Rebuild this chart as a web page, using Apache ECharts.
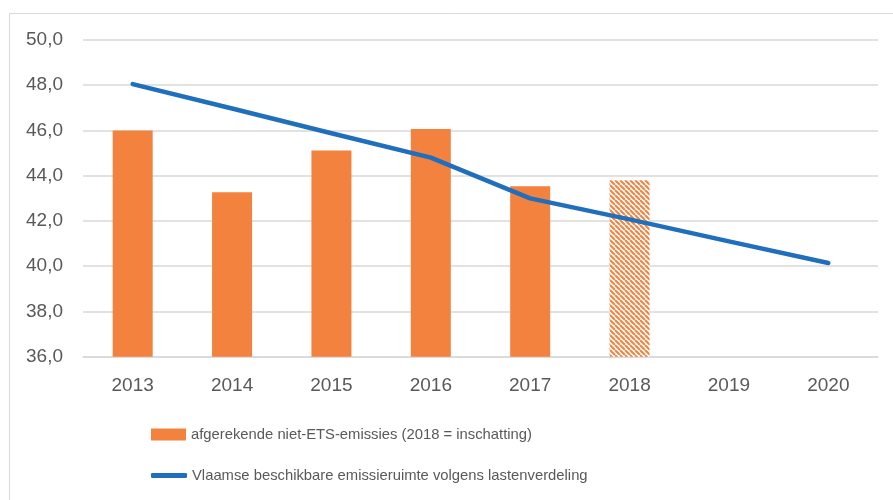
<!DOCTYPE html>
<html>
<head>
<meta charset="utf-8">
<script src="https://cdn.jsdelivr.net/npm/echarts@6/dist/echarts.min.js"></script>
<style>
html,body{margin:0;padding:0;background:#fff;}
#chart{width:893px;height:500px;}
</style>
</head>
<body>
<div id="chart"></div>
<script>
var categories = ['2013','2014','2015','2016','2017','2018','2019','2020'];
var emissions = [46.0, 43.27, 45.12, 46.07, 43.53, 43.8, null, null];
var estimateIndex = 5;
var allowance = [48.05, 46.97, 45.88, 44.8, 43.0, 42.07, 41.1, 40.14];
var seriesNames = ['afgerekende niet-ETS-emissies (2018 = inschatting)', 'Vlaamse beschikbare emissieruimte volgens lastenverdeling'];

var ORANGE = '#F4823F';
var BLUE = '#1F6FBD';
var TEXT = '#595959';

function makeHatch() {
  var s = 5;
  var c = document.createElement('canvas');
  c.width = s; c.height = s;
  var ctx = c.getContext('2d');
  ctx.fillStyle = '#ffffff';
  ctx.fillRect(0, 0, s, s);
  ctx.strokeStyle = ORANGE;
  ctx.lineWidth = 2;
  ctx.beginPath();
  for (var k = -s; k <= 2 * s; k += s) {
    ctx.moveTo(k, 0);
    ctx.lineTo(k + s, s);
  }
  ctx.stroke();
  return c;
}
var hatch = makeHatch();

var barData = emissions.map(function (v, i) {
  if (i === estimateIndex) {
    return { value: v, itemStyle: { color: { image: hatch, repeat: 'repeat' } } };
  }
  return v;
});

var legendText = { color: TEXT, fontSize: 14.8, fontFamily: 'Liberation Sans, Arial, sans-serif' };

var chart = echarts.init(document.getElementById('chart'), null, { renderer: 'canvas' });
chart.setOption({
  animation: false,
  backgroundColor: '#fff',
  textStyle: { fontFamily: 'Liberation Sans, Arial, sans-serif' },
  graphic: [{
    type: 'rect',
    shape: { x: 9.5, y: 13.5, width: 900, height: 500 },
    style: { fill: 'none', stroke: '#D9D9D9', lineWidth: 1 },
    silent: true
  }],
  grid: { left: 83, right: 15, top: 40, bottom: 143.3, containLabel: false },
  legend: [
    {
      left: 146,
      top: 422,
      itemWidth: 35,
      itemHeight: 12,
      itemGap: 5,
      textStyle: legendText,
      data: [{ name: seriesNames[0], icon: 'rect', itemStyle: { color: ORANGE } }]
    },
    {
      left: 146,
      top: 463,
      itemWidth: 36,
      itemHeight: 5,
      textStyle: legendText,
      data: [{ name: seriesNames[1], icon: 'roundRect', itemStyle: { color: BLUE } }]
    }
  ],
  xAxis: {
    type: 'category',
    data: categories,
    axisLine: { show: true, lineStyle: { color: '#D9D9D9', width: 1.5 } },
    axisTick: { show: false },
    axisLabel: { color: TEXT, fontSize: 19, margin: 20 }
  },
  yAxis: {
    type: 'value',
    min: 36,
    max: 50,
    interval: 2,
    axisLine: { show: false },
    axisTick: { show: false },
    splitLine: { lineStyle: { color: '#D9D9D9', width: 1.5 } },
    axisLabel: {
      color: TEXT,
      fontSize: 19,
      margin: 20,
      formatter: function (v) { return v.toFixed(1).replace('.', ','); }
    }
  },
  series: [
    {
      name: seriesNames[0],
      type: 'bar',
      data: barData,
      barWidth: 40,
      itemStyle: { color: ORANGE },
      z: 2
    },
    {
      name: seriesNames[1],
      type: 'line',
      data: allowance,
      symbol: 'none',
      showSymbol: false,
      lineStyle: { color: BLUE, width: 4.5, cap: 'round', join: 'round' },
      itemStyle: { color: BLUE },
      z: 3
    }
  ]
});
</script>
</body>
</html>
